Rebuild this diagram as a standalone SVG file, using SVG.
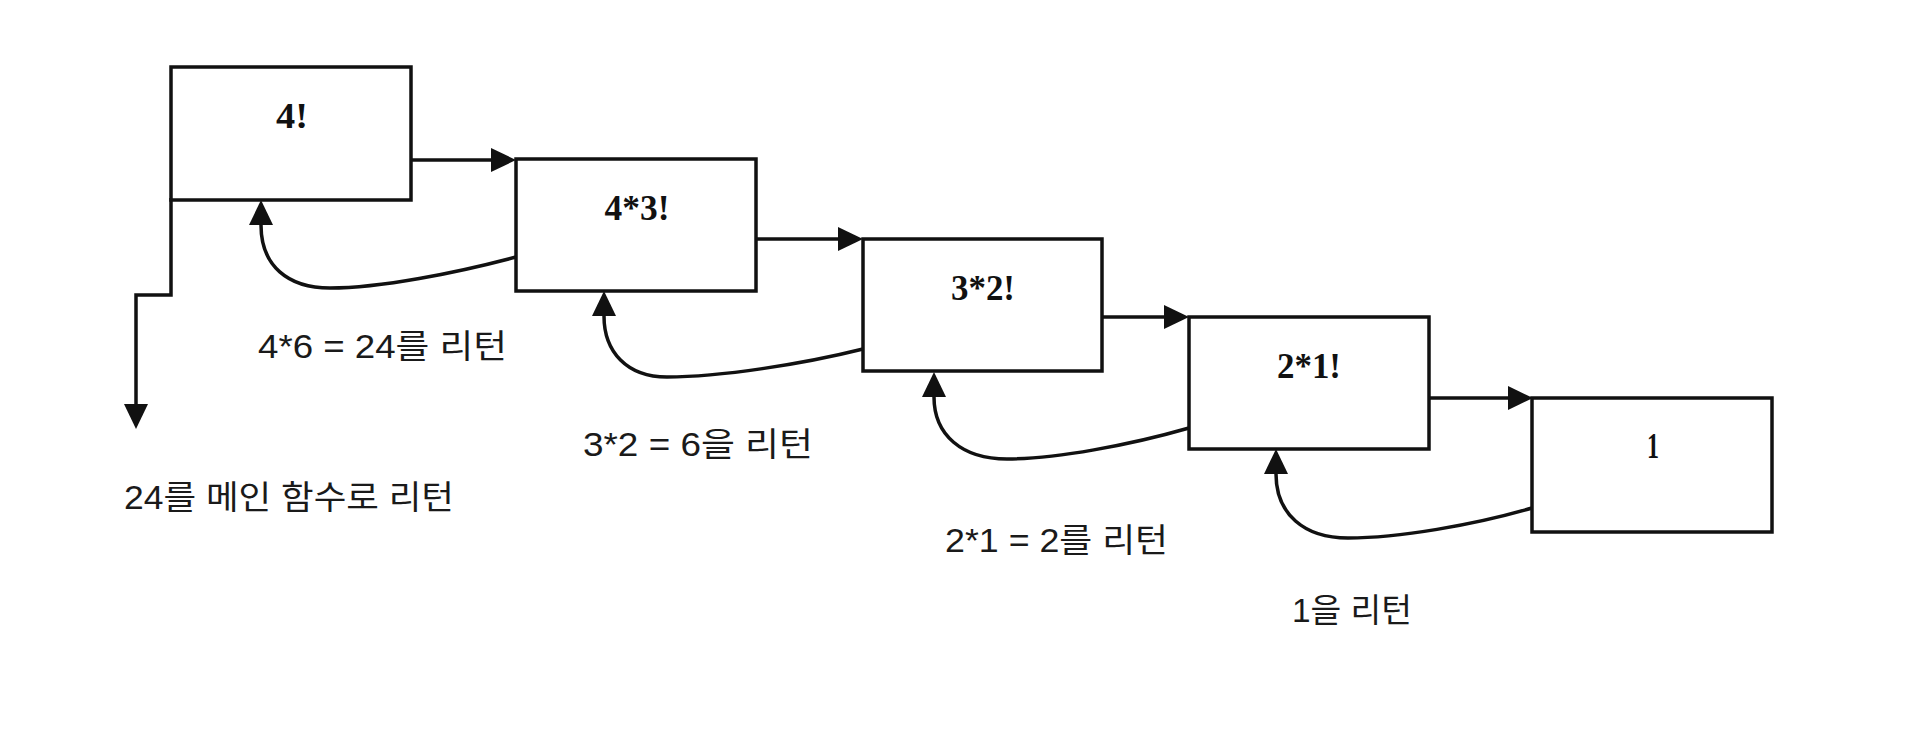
<svg xmlns="http://www.w3.org/2000/svg" width="1920" height="734" viewBox="0 0 1920 734">
<style>
.box{fill:#fff;stroke:#111;stroke-width:3.5}
.lbl{font-family:"Liberation Serif",serif;font-size:36px;font-weight:bold;fill:#111;text-anchor:middle}
.con{fill:none;stroke:#111;stroke-width:3.5}
.txt{font-family:"Liberation Sans","Noto Sans CJK KR",sans-serif;font-size:33px;fill:#1a1a1a}
</style>
<defs>
<marker id="ah" markerUnits="userSpaceOnUse" markerWidth="26" markerHeight="26" refX="0" refY="13" orient="auto" overflow="visible">
<path d="M0,1 L25,13 L0,25 z" fill="#111"/>
</marker>
</defs>
<rect width="1920" height="734" fill="#fff"/>
<g id="connectors">
<path class="con" d="M171,198 L171,295 L136,295 L136,404" marker-end="url(#ah)"/>
<path class="con" d="M411,160 L491,160" marker-end="url(#ah)"/>
<path class="con" d="M756,239 L838,239" marker-end="url(#ah)"/>
<path class="con" d="M1102,317 L1164,317" marker-end="url(#ah)"/>
<path class="con" d="M1429,398 L1508,398" marker-end="url(#ah)"/>
<path class="con" d="M516,257 C456,273 380,288 330,288 C288,288 261,266 261,225" marker-end="url(#ah)"/>
<path class="con" d="M863,349 C803,364 720,377 667,377 C627,377 604,352 604,316" marker-end="url(#ah)"/>
<path class="con" d="M1189,428 C1130,445 1055,459 1007,459 C962,459 934,435 934,397" marker-end="url(#ah)"/>
<path class="con" d="M1532,508 C1474,525 1398,538 1348,538 C1304,538 1276,514 1276,474" marker-end="url(#ah)"/>
</g>
<g id="node-4fact">
<rect class="box" x="171" y="67" width="240" height="133"/>
<text class="lbl" x="292" y="128" textLength="32" lengthAdjust="spacingAndGlyphs">4!</text>
</g>
<g id="node-4x3fact">
<rect class="box" x="516" y="159" width="240" height="132"/>
<text class="lbl" x="637" y="220" textLength="65" lengthAdjust="spacingAndGlyphs">4*3!</text>
</g>
<g id="node-3x2fact">
<rect class="box" x="863" y="239" width="239" height="132"/>
<text class="lbl" x="983" y="300" textLength="64" lengthAdjust="spacingAndGlyphs">3*2!</text>
</g>
<g id="node-2x1fact">
<rect class="box" x="1189" y="317" width="240" height="132"/>
<text class="lbl" x="1309" y="378" textLength="64" lengthAdjust="spacingAndGlyphs">2*1!</text>
</g>
<g id="node-1">
<rect class="box" x="1532" y="398" width="240" height="134"/>
<text class="lbl" x="1653" y="458" textLength="12" lengthAdjust="spacingAndGlyphs">1</text>
</g>
<g id="labels">
<text class="txt" x="258" y="358" textLength="249" lengthAdjust="spacingAndGlyphs">4*6 = 24를 리턴</text>
<text class="txt" x="583" y="456" textLength="230" lengthAdjust="spacingAndGlyphs">3*2 = 6을 리턴</text>
<text class="txt" x="124" y="509" textLength="330" lengthAdjust="spacingAndGlyphs">24를 메인 함수로 리턴</text>
<text class="txt" x="945" y="552" textLength="223" lengthAdjust="spacingAndGlyphs">2*1 = 2를 리턴</text>
<text class="txt" x="1292" y="622" textLength="120" lengthAdjust="spacingAndGlyphs">1을 리턴</text>
</g>
</svg>
